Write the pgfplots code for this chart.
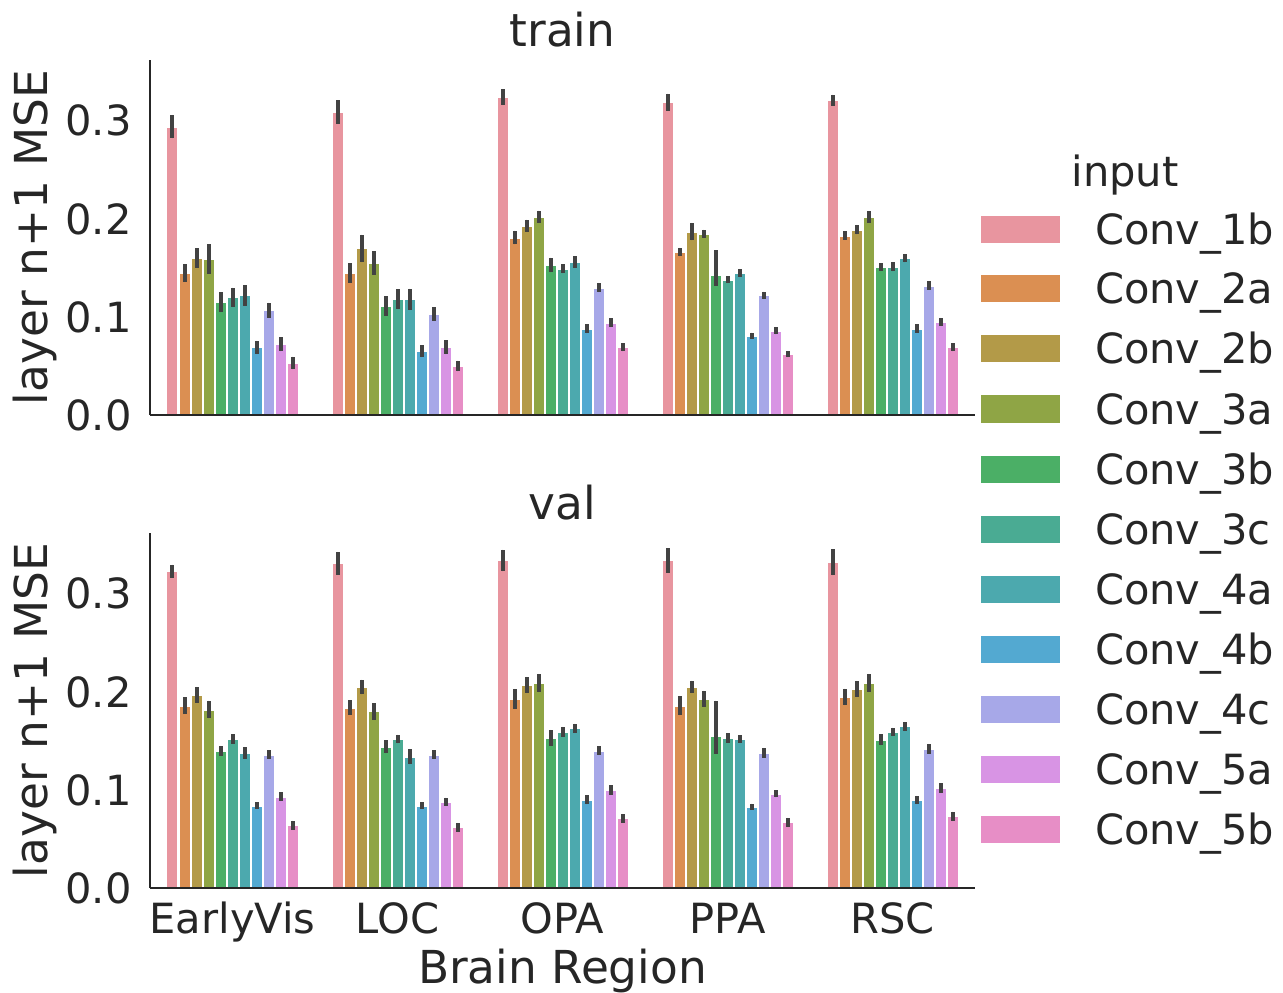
\documentclass[border=0pt]{standalone}
\usepackage{pgfplots}
\pgfplotsset{compat=1.18}
\usepackage{pgfplotstable}
\usepackage{fontspec}
\setmainfont{DejaVu Sans}

\definecolor{txt}{HTML}{262626}
\definecolor{errc}{HTML}{424242}
\definecolor{c1b}{HTML}{E8959F}
\definecolor{c2a}{HTML}{DB8F52}
\definecolor{c2b}{HTML}{B39A48}
\definecolor{c3a}{HTML}{8FA545}
\definecolor{c3b}{HTML}{4BAF66}
\definecolor{c3c}{HTML}{4AAB93}
\definecolor{c4a}{HTML}{4CA9AE}
\definecolor{c4b}{HTML}{53A9D1}
\definecolor{c4c}{HTML}{A7A8E8}
\definecolor{c5a}{HTML}{D894E4}
\definecolor{c5b}{HTML}{E78EC6}

% mean MSE and CI half-widths per input layer (columns) and brain region (rows)
\pgfplotstableread{
x m1b e1b m2a e2a m2b e2b m3a e3a m3b p3b n3b m3c e3c m4a e4a m4b e4b m4c e4c m5a e5a m5b e5b
0 0.294 0.012 0.145 0.009 0.160 0.010 0.159 0.015 0.115 0.010 0.010 0.120 0.010 0.122 0.0105 0.069 0.0065 0.107 0.0077 0.072 0.0072 0.053 0.0065
1 0.309 0.012 0.145 0.010 0.170 0.014 0.155 0.012 0.111 0.010 0.010 0.118 0.010 0.118 0.011 0.065 0.006 0.103 0.007 0.069 0.007 0.050 0.0055
2 0.324 0.008 0.181 0.007 0.193 0.0063 0.202 0.0063 0.153 0.0075 0.0075 0.149 0.0046 0.156 0.0057 0.088 0.0048 0.130 0.0048 0.094 0.0045 0.069 0.004
3 0.319 0.0086 0.166 0.0043 0.187 0.009 0.185 0.004 0.143 0.025 0.011 0.138 0.0034 0.145 0.004 0.081 0.003 0.122 0.0038 0.086 0.0038 0.062 0.003
4 0.321 0.0057 0.183 0.0043 0.189 0.0048 0.202 0.006 0.151 0.004 0.004 0.151 0.0046 0.160 0.0043 0.088 0.0043 0.132 0.0043 0.095 0.004 0.069 0.004
}\train

\pgfplotstableread{
x m1b e1b m2a e2a m2b e2b m3a e3a m3b p3b n3b m3c e3c m4a e4a m4b e4b m4c e4c m5a e5a m5b e5b
0 0.323 0.0068 0.186 0.0084 0.197 0.008 0.182 0.009 0.140 0.005 0.005 0.152 0.0047 0.138 0.006 0.084 0.0034 0.136 0.0044 0.093 0.0044 0.064 0.0046
1 0.331 0.0118 0.184 0.0074 0.205 0.0076 0.180 0.0084 0.144 0.0068 0.0068 0.152 0.0044 0.134 0.008 0.084 0.0034 0.136 0.0044 0.088 0.0042 0.062 0.0044
2 0.334 0.0111 0.193 0.010 0.207 0.0084 0.209 0.0093 0.153 0.0083 0.0083 0.159 0.0052 0.163 0.0046 0.090 0.0044 0.140 0.0046 0.100 0.0049 0.071 0.0047
3 0.334 0.0123 0.186 0.010 0.205 0.0064 0.193 0.0084 0.155 0.036 0.018 0.153 0.0047 0.152 0.0039 0.083 0.003 0.138 0.005 0.096 0.0037 0.067 0.0045
4 0.332 0.0132 0.195 0.0084 0.203 0.0081 0.209 0.0093 0.151 0.0056 0.0056 0.159 0.0045 0.165 0.0045 0.090 0.0039 0.142 0.005 0.102 0.0047 0.073 0.0049
}\val

\newcommand{\tickfont}{\fontsize{20.8}{24}\selectfont}
\newcommand{\labfont}{\fontsize{22.7}{26}\selectfont}

% one group of bars: table, mean column, error column, colour, shift
\newcommand{\barseries}[5]{%
  \addplot[fill=#4, draw=white, line width=1pt, bar shift=#5]
    table[x=x, y=#2, y error=#3]{#1};}

\newcommand{\allbars}[1]{%
  \barseries{#1}{m1b}{e1b}{c1b}{-0.36364}
  \barseries{#1}{m2a}{e2a}{c2a}{-0.29091}
  \barseries{#1}{m2b}{e2b}{c2b}{-0.21818}
  \barseries{#1}{m3a}{e3a}{c3a}{-0.14545}
  \addplot[fill=c3b, draw=white, line width=1pt, bar shift=-0.07273]
    table[x=x, y=m3b, y error plus=p3b, y error minus=n3b]{#1};
  \barseries{#1}{m3c}{e3c}{c3c}{0}
  \barseries{#1}{m4a}{e4a}{c4a}{0.07273}
  \barseries{#1}{m4b}{e4b}{c4b}{0.14545}
  \barseries{#1}{m4c}{e4c}{c4c}{0.21818}
  \barseries{#1}{m5a}{e5a}{c5a}{0.29091}
  \barseries{#1}{m5b}{e5b}{c5b}{0.36364}}

\pgfplotsset{
  panel/.style={
    scale only axis, width=412.5pt, height=177.5pt,
    anchor=south west, clip=false, axis on top,
    ybar, bar width=0.07273,
    xmin=-0.5, xmax=4.5, ymin=0, ymax=0.362,
    axis x line*=bottom, axis y line*=left,
    axis line style={color=txt, line width=1pt},
    major tick length=0pt,
    xtick={0,1,2,3,4},
    ytick={0,0.1,0.2,0.3},
    /pgf/number format/assume math mode=true,
    /pgf/number format/fixed,
    /pgf/number format/fixed zerofill,
    /pgf/number format/precision=1,
    ticklabel style={font=\tickfont, color=txt, inner sep=0pt},
    yticklabel style={anchor=east, xshift=-9pt},
    xticklabel style={anchor=base, yshift=-22.5pt},
    ylabel={layer n+1 MSE},
    ylabel style={font=\labfont, color=txt, at={(axis description cs:-0.1394,0.5)}, anchor=center},
    title style={font=\labfont, color=txt, at={(axis description cs:0.5,1)}, anchor=base, yshift=0.8pt, inner sep=0pt},
    error bars/y dir=both, error bars/y explicit,
    error bars/error mark=none,
    error bars/error bar style={line width=2pt, color=errc},
  }
}

\begin{document}
\begin{tikzpicture}
\useasboundingbox (0,0) rectangle (641.5pt,496pt);

\begin{axis}[panel, at={(75pt,288.5pt)}, title={train}, xticklabels={},
  legend image code/.code={\path[#1, draw=white, line width=0.5pt] (0pt,-7pt) rectangle (40pt,7pt);},
  legend style={at={(axis description cs:1.00606,0.5775)}, anchor=north west,
    draw=none, fill=none, inner sep=0pt, outer sep=0pt, row sep=11pt, column sep=17pt,
    font=\tickfont, text=txt,
    nodes={inner sep=0pt, text height=17pt, text depth=2pt}},
  legend cell align=left]
\allbars{\train}
\legend{Conv\_1b,Conv\_2a,Conv\_2b,Conv\_3a,Conv\_3b,Conv\_3c,Conv\_4a,Conv\_4b,Conv\_4c,Conv\_5a,Conv\_5b}
\node[font=\tickfont, text=txt, anchor=base] at (axis description cs:1.1818,0.645) {input};
\end{axis}

\begin{axis}[panel, at={(75pt,52pt)}, title={val},
  xticklabels={EarlyVis,LOC,OPA,PPA,RSC},
  xlabel={Brain Region},
  xlabel style={font=\labfont, color=txt, at={(axis description cs:0.5,0)}, anchor=base, yshift=-47.5pt, inner sep=0pt}]
\allbars{\val}
\end{axis}
\end{tikzpicture}
\end{document}
